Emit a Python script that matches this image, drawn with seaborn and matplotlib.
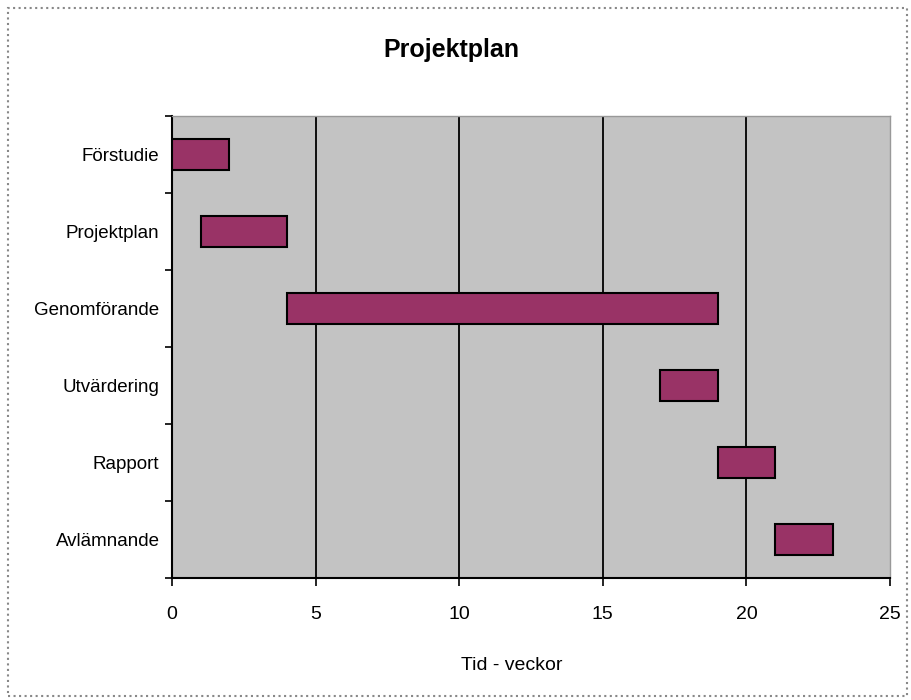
import matplotlib.pyplot as plt
import matplotlib.patches as mpatches
import pandas as pd
import seaborn as sns

# Task names and start/end (weeks)
tasks = ['Förstudie', 'Projektplan', 'Genomförande', 'Utvärdering', 'Rapport', 'Avlämnande']
start = [0, 1, 4, 17, 19, 21]
end = [2, 4, 19, 19, 21, 23]
xticks = [0, 5, 10, 15, 20, 25]

df = pd.DataFrame({'task': tasks, 'start': start, 'end': end})
df['dur'] = df['end'] - df['start']

sns.set_style('white')
plt.rcParams['font.family'] = ['Liberation Sans', 'DejaVu Sans']
plt.rcParams['text.color'] = 'black'
plt.rcParams['axes.labelcolor'] = 'black'
plt.rcParams['xtick.color'] = 'black'
plt.rcParams['ytick.color'] = 'black'

fig = plt.figure(figsize=(9.11, 7), dpi=100)
ax = fig.add_axes([172 / 911, 122 / 700, 718 / 911, 462 / 700])
ax.set_facecolor('#c3c3c3')

sns.barplot(data=df, x='dur', y='task', order=tasks, color='#993366',
            width=0.4, edgecolor='black', linewidth=1.5, saturation=1,
            zorder=3, ax=ax)
# shift each bar to its start week
for patch, s, d in zip(ax.patches, df['start'], df['dur']):
    patch.set_x(s)
    patch.set_width(d)

ax.set_xlim(0, 25)
ax.set_ylim(len(tasks) - 0.5, -0.5)
ax.set_xticks(xticks)
ax.set_xticklabels([str(v) for v in xticks], fontsize=14)
ax.tick_params(axis='x', bottom=True, direction='out', length=6, width=1.2, pad=14)
for v in xticks[1:-1]:
    ax.axvline(v, color='black', lw=1.3, zorder=2)

ax.set_yticks(range(len(tasks)))
ax.set_yticklabels(tasks, fontsize=13.5)
ax.tick_params(axis='y', which='major', left=True, length=0, pad=9)
ax.set_yticks([i - 0.5 for i in range(len(tasks) + 1)], minor=True)
ax.tick_params(axis='y', which='minor', left=True, direction='out', length=5, width=1.2)

ax.set_xlabel('Tid - veckor', fontsize=14)
ax.set_ylabel('')
ax.xaxis.set_label_coords(0.473, -0.17)

for side in ['left', 'bottom']:
    ax.spines[side].set_color('black')
    ax.spines[side].set_linewidth(1.5)
for side in ['top', 'right']:
    ax.spines[side].set_color('#999999')
    ax.spines[side].set_linewidth(1)

fig.text(451 / 911, 1 - 50 / 700, 'Projektplan', ha='center', va='center',
         fontsize=18, fontweight='bold')

# outer chart border
fig.patches.append(mpatches.Rectangle((8 / 911, 4 / 700), 899 / 911, 688 / 700,
                                      transform=fig.transFigure, fill=False,
                                      edgecolor='#888888', lw=1.5, ls=':'))

fig.savefig('out.png', dpi=100)
